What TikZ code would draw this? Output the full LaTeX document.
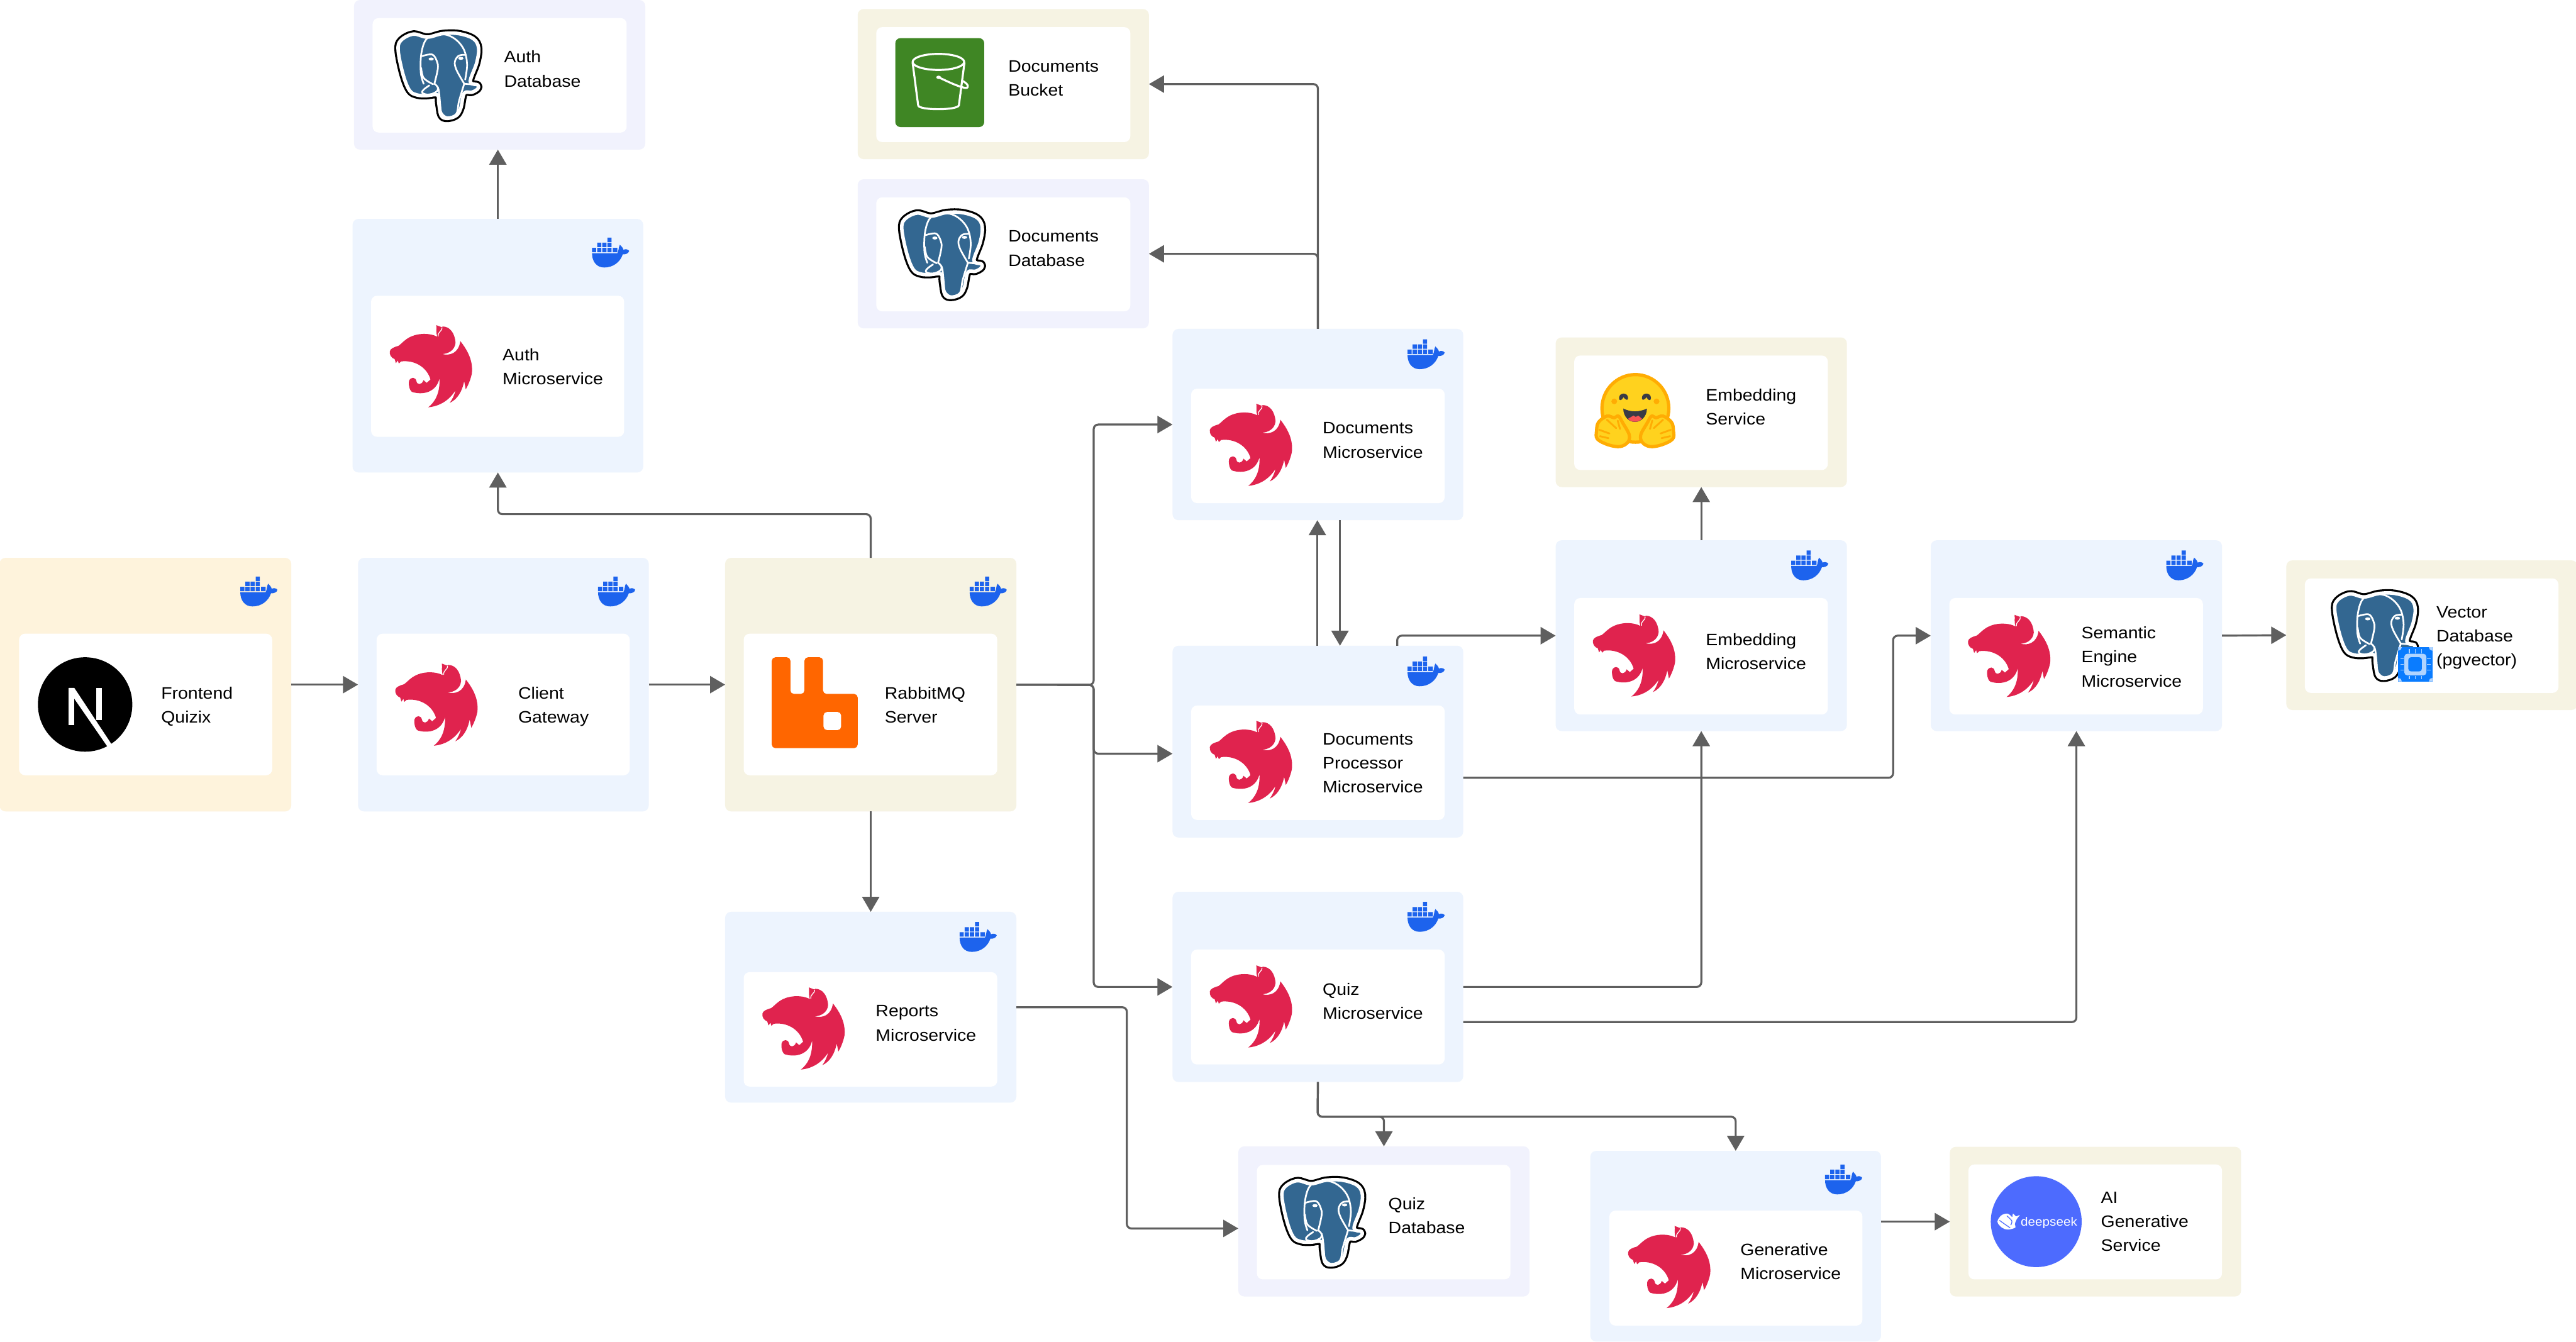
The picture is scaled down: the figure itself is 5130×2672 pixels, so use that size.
\documentclass[tikz,border=0pt]{standalone}
\usepackage{fontspec}
\setmainfont[FakeStretch=1.08]{Liberation Sans}
\usetikzlibrary{arrows.meta}
\definecolor{bluep}{HTML}{EDF4FE}
\definecolor{beigep}{HTML}{F6F3E3}
\definecolor{purplep}{HTML}{F1F2FD}
\definecolor{orangep}{HTML}{FEF3DC}
\definecolor{nestred}{HTML}{E0234E}
\definecolor{dockerblue}{HTML}{1D63ED}
\definecolor{linegrey}{HTML}{5F5F5F}
\definecolor{pgblue}{HTML}{336791}
\definecolor{rabbitorange}{HTML}{FF6600}
\definecolor{awsgreen}{HTML}{3F8624}
\definecolor{hfyellow}{HTML}{FFD21E}
\definecolor{hforange}{HTML}{FFAC03}
\definecolor{hfdark}{HTML}{3A3B45}
\definecolor{hfred}{HTML}{F95454}
\definecolor{dsblue}{HTML}{4D6BFE}
\definecolor{chipblue}{HTML}{0A7CFF}
\definecolor{chiplight}{HTML}{B0D4FF}
\newcommand{\panelbox}[6]{%
  \pgfmathsetmacro\mypw{#4-#2}\pgfmathsetmacro\myph{#5-#3}%
  \node[panelshape,fill=#6,minimum width=\mypw pt,minimum height=\myph pt] (#1) at ({(#2+#4)/2},{(#3+#5)/2}) {};}
\newcommand{\twol}[2]{\vtop{\hbox{#1}\hbox{#2}}}
\newcommand{\threel}[3]{\vtop{\hbox{#1}\hbox{#2}\hbox{#3}}}
\newcommand{\pgsilh}{plot[smooth cycle,tension=.6] coordinates {(290,345)(305,285)(370,248)(445,266)(525,245)(610,245)(688,275)(716,330)(706,420)(672,532)(712,552)(712,575)(680,596)(640,602)(622,690)(598,735)(550,752)(518,735)(505,660)(498,612)(440,616)(390,612)(350,585)(316,490)}}
\tikzset{
  panelshape/.style={rectangle,rounded corners=12pt,inner sep=0pt,outer sep=0pt,draw=none},
  txt/.style={anchor=base west,inner sep=0pt,outer sep=0pt,font=\fontsize{33}{48}\selectfont,text=black},
  flow/.style={draw=linegrey,line width=4pt,rounded corners=9pt,-{Triangle[length=30pt,width=34pt]}},
  nest/.pic={
    \begin{scope}[x=0.638pt,y=-0.676pt,shift={(-613,-363.5)}]
      \fill[nestred] (485,320) .. controls (487,312) and (497,308) .. (512,304)
        .. controls (525,296) and (540,272) .. (585,269)
        .. controls (605,268) and (620,271) .. (633,277)
        .. controls (628,265) and (632,252) .. (630,243)
        .. controls (640,246) and (650,252) .. (650,247)
        .. controls (672,247) and (688,266) .. (690,295)
        .. controls (688,318) and (665,328) .. (648,328)
        .. controls (672,334) and (700,326) .. (705,290)
        .. controls (730,320) and (745,350) .. (741,385)
        .. controls (738,400) and (730,420) .. (722,432)
        -- (717,408)
        .. controls (710,440) and (695,462) .. (672,472)
        .. controls (680,462) and (687,448) .. (690,435)
        .. controls (670,465) and (640,482) .. (605,485)
        .. controls (625,470) and (642,445) .. (640,400)
        .. controls (630,440) and (590,450) .. (555,440)
        .. controls (545,435) and (543,415) .. (545,407)
        .. controls (550,395) and (565,395) .. (568,408)
        .. controls (570,420) and (585,420) .. (590,405)
        -- (600,413) -- (612,403)
        .. controls (600,365) and (560,345) .. (520,350)
        -- (513,356) -- (510,347) -- (504,355) -- (500,343)
        .. controls (490,340) and (483,330) .. (485,320) -- cycle;
      \draw[white,line width=1.6pt] (636,276) .. controls (634,262) and (650,260) .. (648,250);
    \end{scope}},
  dock/.pic={
    \begin{scope}[x=0.638pt,y=-0.676pt,shift={(-1160,-97)}]
      \fill[dockerblue]
        (1102,83) rectangle (1115,96) (1118,83) rectangle (1131,96) (1134,83) rectangle (1147,96)
        (1150,83) rectangle (1163,96) (1167,83) rectangle (1181,96)
        (1118,68) rectangle (1131,81) (1134,68) rectangle (1147,81) (1150,68) rectangle (1163,81)
        (1150,53) rectangle (1163,66);
      \fill[dockerblue] (1102,99) -- (1181,99)
        .. controls (1186,92) and (1184,82) .. (1189,74)
        .. controls (1194,78) and (1199,84) .. (1200,89)
        .. controls (1206,86) and (1214,87) .. (1218,92)
        .. controls (1216,100) and (1206,103) .. (1198,102)
        .. controls (1190,125) and (1168,141) .. (1140,141)
        .. controls (1115,141) and (1102,122) .. (1102,99) -- cycle;
    \end{scope}},
  pg/.pic={
    \begin{scope}[x=0.376pt,y=-0.333pt,shift={(-503,-496)}]
      \draw[black,line width=15pt,line join=round] \pgsilh;
      \draw[white,line width=7pt,fill=pgblue,line join=round] \pgsilh;
      \begin{scope}[white,line width=3.4pt,line cap=round,line join=round]
        \draw plot[smooth,tension=.6] coordinates {(425,545)(410,480)(412,370)(435,285)(480,252)(545,252)(600,285)(640,345)(655,430)(645,520)};
        \draw plot[smooth,tension=.6] coordinates {(415,380)(470,370)(495,410)(500,455)(482,545)};
        \draw plot[smooth,tension=.6] coordinates {(412,450)(425,510)(475,548)};
        \draw plot[smooth,tension=.6] coordinates {(640,545)(600,465)(590,415)(610,378)(645,372)};
        \draw plot[smooth,tension=.6] coordinates {(482,545)(503,575)(512,660)(518,715)(550,745)(598,725)(612,650)(640,545)};
        \draw plot[smooth,tension=.6] coordinates {(455,555)(425,580)(418,600)(455,610)(495,590)(500,565)};
        \draw (640,545) -- (715,552);
        \fill (465,397) ellipse (14 and 9);
        \fill (622,393) ellipse (14 and 9);
      \end{scope}
    \end{scope}},
  hug/.pic={
    \begin{scope}[x=0.3827pt,y=-0.3333pt,shift={(-408,-470)}]
      \draw[draw=hforange,fill=hfyellow,line width=6.5pt] (410,462) ellipse (174 and 202);
      \fill[hforange] (300,420) circle (15 and 17) (520,420) circle (15 and 17);
      \fill[hfdark] (325,400) .. controls (325,365) and (372,365) .. (372,400) .. controls (372,415) and (362,415) .. (348,395) .. controls (340,415) and (325,420) .. (325,400) -- cycle;
      \fill[hfdark] (444,400) .. controls (444,365) and (491,365) .. (491,400) .. controls (491,420) and (475,415) .. (468,395) .. controls (455,415) and (444,415) .. (444,400) -- cycle;
      \fill[hfdark] (347,463) .. controls (385,485) and (430,485) .. (470,463) .. controls (470,510) and (440,543) .. (408,543) .. controls (375,543) and (347,510) .. (347,463) -- cycle;
      \fill[hfred] (372,524) -- (400,505) -- (412,513) -- (425,505) -- (444,524) .. controls (425,548) and (390,548) .. (372,524) -- cycle;
      \foreach \sx/\ox in {1/0,-1/816} {
        \begin{scope}[shift={(\ox,0)},xscale=\sx]
          \draw[draw=hforange,fill=hfyellow,line width=6.5pt,line join=round] plot[smooth cycle,tension=.6] coordinates {(218,545)(262,508)(300,518)(322,508)(345,550)(378,620)(370,665)(330,690)(270,680)(212,645)(208,595)};
          \begin{scope}[hforange,line width=3.6pt,line cap=round]
            \draw (222,590) -- (275,612);
            \draw (225,628) -- (270,640);
            \draw (262,530) -- (310,580);
            \draw (318,535) -- (330,585);
          \end{scope}
        \end{scope}}
    \end{scope}}
}
\begin{document}
\begin{tikzpicture}[x=1pt,y=-1pt]
\useasboundingbox (0,0) rectangle (5130,2672);
\fill[white] (0,0) rectangle (5130,2672);
% outer panels
\panelbox{fe}{-1}{1111}{580}{1616}{orangep}
\panelbox{client}{713}{1111}{1292}{1616}{bluep}
\panelbox{rabbit}{1444}{1111}{2024}{1616}{beigep}
\panelbox{authdb}{705}{0}{1285}{298}{purplep}
\panelbox{auth}{702}{436}{1281}{941}{bluep}
\panelbox{bucket}{1708}{18}{2288}{317}{beigep}
\panelbox{docdb}{1708}{357}{2288}{654}{purplep}
\panelbox{docs}{2335}{655}{2914}{1036}{bluep}
\panelbox{proc}{2335}{1286}{2914}{1668}{bluep}
\panelbox{quiz}{2335}{1776}{2914}{2155}{bluep}
\panelbox{reports}{1444}{1816}{2024}{2196}{bluep}
\panelbox{quizdb}{2466}{2283}{3046}{2582}{purplep}
\panelbox{gen}{3167}{2292}{3746}{2672}{bluep}
\panelbox{ai}{3883}{2284}{4463}{2582}{beigep}
\panelbox{embsvc}{3098}{672}{3678}{970}{beigep}
\panelbox{embed}{3098}{1076}{3678}{1456}{bluep}
\panelbox{sem}{3845}{1076}{4425}{1456}{bluep}
\panelbox{vec}{4553}{1116}{5133}{1414}{beigep}
% inner cards
\panelbox{fei}{38}{1262}{542}{1544}{white}
\panelbox{clienti}{750}{1262}{1254}{1544}{white}
\panelbox{rabbiti}{1481}{1262}{1986}{1544}{white}
\panelbox{authdbi}{742}{36}{1248}{264}{white}
\panelbox{authi}{739}{589}{1243}{870}{white}
\panelbox{bucketi}{1745}{54}{2251}{283}{white}
\panelbox{docdbi}{1745}{393}{2251}{620}{white}
\panelbox{docsi}{2372}{774}{2877}{1002}{white}
\panelbox{proci}{2372}{1405}{2877}{1633}{white}
\panelbox{quizi}{2372}{1891}{2877}{2120}{white}
\panelbox{reportsi}{1481}{1936}{1986}{2164}{white}
\panelbox{quizdbi}{2503}{2320}{3008}{2548}{white}
\panelbox{geni}{3205}{2411}{3709}{2640}{white}
\panelbox{aii}{3920}{2319}{4425}{2548}{white}
\panelbox{embsvci}{3135}{708}{3640}{936}{white}
\panelbox{embedi}{3135}{1191}{3640}{1423}{white}
\panelbox{semi}{3882}{1191}{4387}{1423}{white}
\panelbox{veci}{4590}{1152}{5095}{1380}{white}
% connectors
\coordinate (jct) at (2178,1364);
\coordinate (authbus) at (1734,1024);
\coordinate (semturn) at (3770,1266);
\coordinate (quizbus) at (2624,2224);
\coordinate (repturn) at (2244,2006);
\coordinate (procin) at ([yshift=-24pt]proc.west);
\coordinate (quizdbin) at ([yshift=-14pt]quizdb.west);
\draw[flow] (fe.east) -- (client.west);
\draw[flow] (client.east) -- (rabbit.west);
\draw[flow] (rabbit.north) -- (authbus) -- (authbus -| auth.south) -- (auth.south);
\draw[flow] (auth.north) -- (auth.north |- authdb.south);
\draw[flow] (rabbit.east) -- (jct) -- (jct |- docs.west) -- (docs.west);
\draw[flow] (rabbit.east) -- (jct) -- (jct |- procin) -- (procin);
\draw[flow] (rabbit.east) -- (jct) -- (jct |- quiz.west) -- (quiz.west);
\draw[flow] (rabbit.south) -- (reports.north);
\draw[flow] (docs.north) -- (docs.north |- bucket.east) -- (bucket.east);
\draw[flow] (docs.north) -- (docs.north |- docdb.east) -- (docdb.east);
\draw[flow] ([xshift=-1pt]proc.north) -- ([xshift=-1pt]docs.south);
\draw[flow] ([xshift=44pt]docs.south) -- ([xshift=44pt]proc.north);
\draw[flow] ([xshift=158pt]proc.north) -- ([xshift=158pt]proc.north |- embed.west) -- (embed.west);
\draw[flow] ([yshift=-72pt]proc.east) -- ([yshift=-72pt]proc.east -| semturn) -- (semturn) -- (sem.west);
\draw[flow] (embed.north) -- (embsvc.south);
\draw[flow] (quiz.east) -- (quiz.east -| embed.south) -- (embed.south);
\draw[flow] ([yshift=-70pt]quiz.east) -- ([yshift=-70pt]quiz.east -| sem.south) -- (sem.south);
\draw[flow] (quiz.south) -- (quizbus) -- (quizbus -| quizdb.north) -- (quizdb.north);
\draw[flow] (quiz.south) -- (quizbus) -- (quizbus -| gen.north) -- (gen.north);
\draw[flow] (reports.east) -- (repturn) -- (repturn |- quizdbin) -- (quizdbin);
\draw[flow] (ai.west -| gen.east) -- (ai.west);
\draw[flow] (sem.east) -- (vec.west);
% docker icons
\foreach \px/\py in {515.5/1178,1228/1178,1968/1178,1216/503,2840/705.5,2840/1337,3604/1126,4351/1126,2840/1826,1948/1866,3671.5/2349}
  \pic at (\px,\py) {dock};
% nest logos
\foreach \px/\py in {869/1403,858/729,2491/885.5,2491/1517,2491/2004,3254/1305,4001/1306,1600/2048,3324/2523}
  \pic at (\px,\py) {nest};
% postgres logos
\foreach \px/\py in {873/150.5,1876/507,2633/2434,4729.5/1265.5}
  \pic at (\px,\py) {pg};
% next.js
\node[circle,fill=black,minimum size=188pt,inner sep=0pt] (nextlogo) at (169.5,1403) {};
\fill[white] (137,1370) rectangle (148,1444);
\fill[white] (191,1370) rectangle (203,1434);
\fill[white] (137,1370) -- (148,1370) -- (222,1482) -- (214,1487) -- (147.6,1391) -- cycle;
% rabbitmq
\fill[rabbitorange,rounded corners=7pt] (1537,1490) -- (1537,1309) -- (1574,1309) -- (1574,1382) -- (1602,1382) -- (1602,1309) -- (1639,1309) -- (1639,1382) -- (1708,1382) -- (1708,1490) -- cycle;
\fill[white,rounded corners=7pt] (1640,1418) rectangle (1675,1454);
% bucket
\fill[awsgreen,rounded corners=10pt] (1783,76) rectangle (1960,253);
\begin{scope}[x=0.3954pt,y=-0.3333pt,shift={(4299.4,60)},white,line width=4pt,line join=round,line cap=round]
  \draw (427,310) ellipse (130 and 48);
  \draw (297,315) -- (325,570) .. controls (330,600) and (520,600) .. (530,570) -- (558,315);
  \draw (428,402) .. controls (470,425) and (520,455) .. (560,465) .. controls (585,470) and (580,440) .. (545,422);
  \fill (428,402) circle (12 and 10);
\end{scope}
% hugging face
\pic at (3256,816) {hug};
% deepseek
\node[circle,fill=dsblue,minimum size=181pt,inner sep=0pt] (dslogo) at (4055,2433) {};
\node[anchor=base west,inner sep=0pt,text=white,font=\fontsize{24}{30}\selectfont] (dstext) at (4024,2441) {deepseek};
\begin{scope}[x=0.3954pt,y=-0.3333pt,shift={(9762.3,6840)}]
  \fill[white] plot[smooth cycle,tension=.6] coordinates {(298,460)(318,422)(350,412)(372,432)(376,412)(392,428)(410,420)(395,445)(385,475)(388,495)(350,507)(320,495)};
  \draw[dsblue,line width=1.6pt] plot[smooth,tension=.6] coordinates {(308,452)(335,475)(362,497)};
  \draw[dsblue,line width=1.6pt] plot[smooth,tension=.6] coordinates {(345,425)(370,455)(365,480)};
\end{scope}
% chip
\fill[chipblue] (4776,1289) rectangle (4844,1357);
\fill[chiplight] (4776,1289) -- +(7,0) arc[start angle=0,end angle=-90,radius=7pt] -- cycle;
\fill[chiplight] (4844,1289) -- +(-7,0) arc[start angle=180,end angle=270,radius=7pt] -- cycle;
\fill[chiplight] (4776,1357) -- +(7,0) arc[start angle=0,end angle=90,radius=7pt] -- cycle;
\fill[chiplight] (4844,1357) -- +(-7,0) arc[start angle=180,end angle=90,radius=7pt] -- cycle;
\fill[chiplight,rounded corners=6pt] (4788,1302) rectangle (4832,1345);
\fill[chipblue,rounded corners=5pt] (4796,1309) rectangle (4823,1337);
\begin{scope}[chiplight,line width=1.4pt]
  \foreach \cx in {4798,4810,4822} {\draw (\cx,1293) -- (\cx,1301); \draw (\cx,1346) -- (\cx,1353);}
  \foreach \cy in {1312,1323,1335} {\draw (4780,\cy) -- (4787,\cy); \draw (4833,\cy) -- (4840,\cy);}
\end{scope}
% labels
\node[txt] (t1) at (321,1392) {\twol{Frontend}{Quizix}};
\node[txt] (t2) at (1032,1392) {\twol{Client}{Gateway}};
\node[txt] (t3) at (1762,1392) {\twol{RabbitMQ}{Server}};
\node[txt] (t4) at (1004,125) {\twol{Auth}{Database}};
\node[txt] (t5) at (1001,718) {\twol{Auth}{Microservice}};
\node[txt] (t6) at (2008,143) {\twol{Documents}{Bucket}};
\node[txt] (t7) at (2008,482) {\twol{Documents}{Database}};
\node[txt] (t8) at (2634,864) {\twol{Documents}{Microservice}};
\node[txt] (t9) at (2634,1483) {\threel{Documents}{Processor}{Microservice}};
\node[txt] (t10) at (2634,1982) {\twol{Quiz}{Microservice}};
\node[txt] (t11) at (1744,2025) {\twol{Reports}{Microservice}};
\node[txt] (t12) at (2765,2409) {\twol{Quiz}{Database}};
\node[txt] (t13) at (3466,2500) {\twol{Generative}{Microservice}};
\node[txt] (t14) at (4184,2396) {\threel{AI}{Generative}{Service}};
\node[txt] (t15) at (3397,798) {\twol{Embedding}{Service}};
\node[txt] (t16) at (3397,1285) {\twol{Embedding}{Microservice}};
\node[txt] (t17) at (4145,1272) {\threel{Semantic}{Engine}{Microservice}};
\node[txt] (t18) at (4852,1230) {\threel{Vector}{Database}{(pgvector)}};
\end{tikzpicture}
\end{document}
